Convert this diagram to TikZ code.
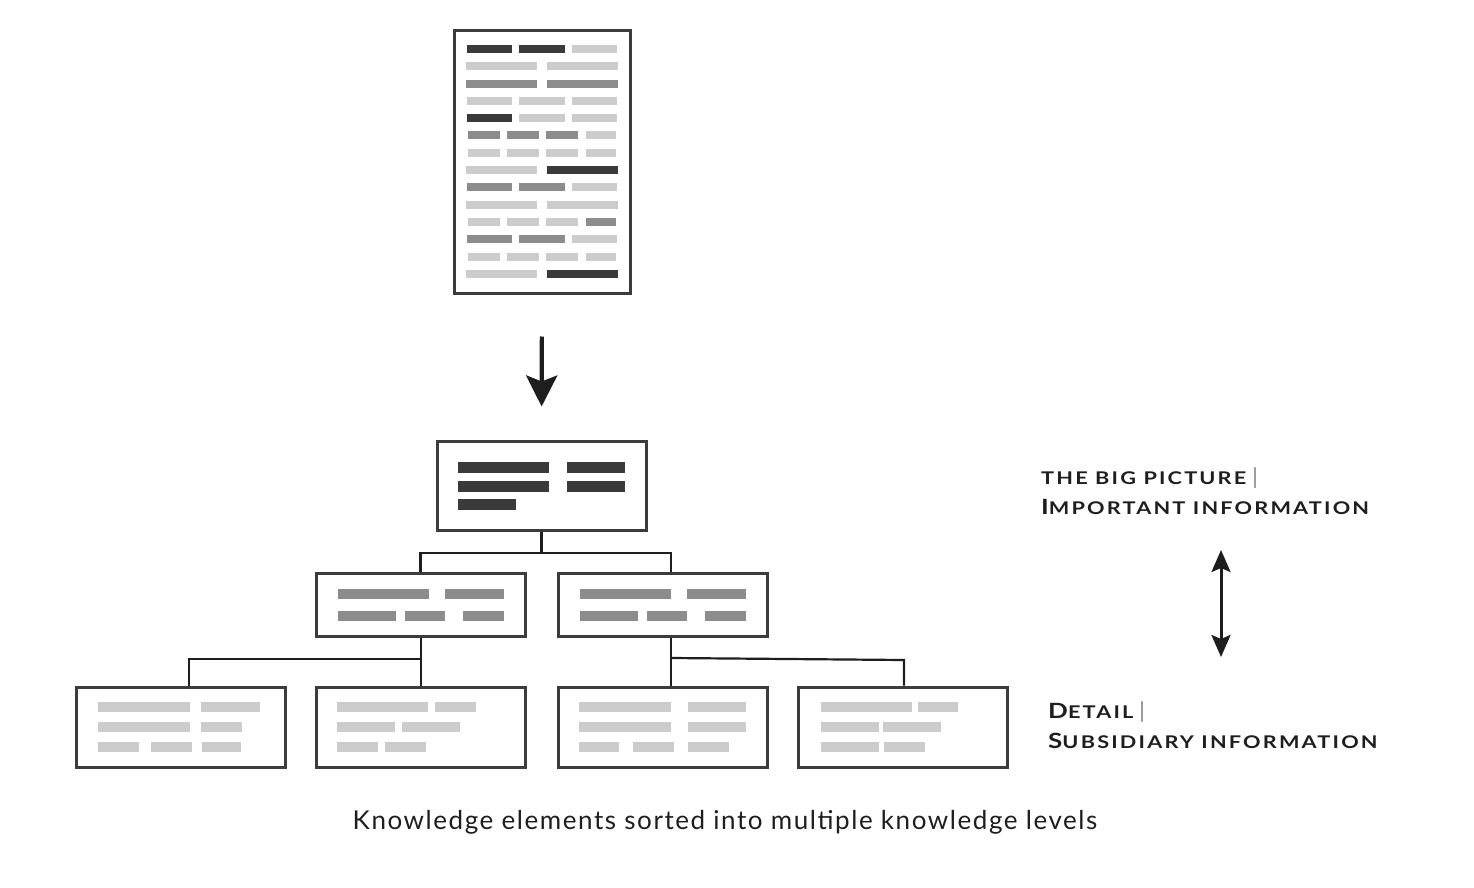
\documentclass[tikz,border=0pt]{standalone}
\usepackage{fontspec}
\setmainfont{Lato}
\newfontfamily\labfont{Lato Bold}[LetterSpace=10]
\newfontfamily\barfont{Lato}
\newfontfamily\capfont{Lato}[LetterSpace=6]
\usetikzlibrary{arrows.meta}
\definecolor{dk}{HTML}{3A3A3A}
\definecolor{md}{HTML}{8C8C8C}
\definecolor{lt}{HTML}{CCCCCC}
\definecolor{edge}{HTML}{3C3C3C}
\definecolor{ink}{HTML}{1E1E1E}
\newcommand\hb[5]{\fill[#5] (#1,#3-#4) rectangle (#2,#3+#4);}
\newcommand\rowtwo[3]{\hb{466}{537}{#1}{4}{#2}\hb{547}{618}{#1}{4}{#3}}
\newcommand\rowthree[4]{\hb{467}{512}{#1}{4}{#2}\hb{519}{565}{#1}{4}{#3}\hb{572}{617}{#1}{4}{#4}}
\newcommand\rowfour[5]{\hb{468}{500}{#1}{4}{#2}\hb{507}{539}{#1}{4}{#3}\hb{546}{578}{#1}{4}{#4}\hb{586}{616}{#1}{4}{#5}}
\newcommand\bigsc[1]{{\fontsize{21}{21}\selectfont #1}}
\newcommand\smsc[1]{{\fontsize{17.5}{17.5}\selectfont #1}}
\newcommand\vbar{{\barfont\fontsize{22}{22}\selectfont\color{gray}|}}
\newcommand\wide[1]{\scalebox{1.24}[1]{#1}}
\begin{document}
\begin{tikzpicture}[x=1pt,y=-1pt,
  box/.style={draw=edge,line width=3pt,fill=white,inner sep=0pt,minimum width=209pt},
  link/.style={draw=ink,line width=2.2pt},
  lab/.style={inner sep=0pt,anchor=base west,text=ink,font=\labfont}]
\useasboundingbox (0,0) rectangle (1474,888);
% document
\node[box,minimum width=176pt,minimum height=262pt] (doc) at (542,162) {};
\rowthree{49}{dk}{dk}{lt}
\rowtwo{66}{lt}{lt}
\rowtwo{84}{md}{md}
\rowthree{101}{lt}{lt}{lt}
\rowthree{118}{dk}{lt}{lt}
\rowfour{135}{md}{md}{md}{lt}
\rowfour{153}{lt}{lt}{lt}{lt}
\rowtwo{170}{lt}{dk}
\rowthree{187}{md}{md}{lt}
\rowtwo{205}{lt}{lt}
\rowfour{222}{lt}{lt}{lt}{md}
\rowthree{239}{md}{md}{lt}
\rowfour{257}{lt}{lt}{lt}{lt}
\rowtwo{274}{lt}{dk}
% top box
\node[box,minimum height=89pt] (top) at (541.5,485.5) {};
\hb{458}{549}{467.5}{5.5}{dk}\hb{567}{625}{467.5}{5.5}{dk}
\hb{458}{549}{486}{5.5}{dk}\hb{567}{625}{486}{5.5}{dk}
\hb{458}{516}{504}{5.5}{dk}
% main arrow
\draw[draw=ink,line width=4.2pt,shorten <=42pt,shorten >=33pt,-{Stealth[length=31pt,width=31pt,inset=6pt]}] (doc.south) -- (top.north);
% middle boxes
\node[box,minimum height=63pt] (m1) at (420.5,604.5) {};
\node[box,minimum height=63pt] (m2) at (662.5,604.5) {};
\foreach \d in {0,242}{
  \hb{338+\d}{429+\d}{594}{5.3}{md}\hb{445+\d}{504+\d}{594}{5.3}{md}
  \hb{338+\d}{396+\d}{616}{5.3}{md}\hb{405+\d}{445+\d}{616}{5.3}{md}\hb{463+\d}{504+\d}{616}{5.3}{md}
}
% bottom boxes
\node[box,minimum height=80pt] (b1) at (180.5,727) {};
\node[box,minimum height=80pt] (b2) at (421,727) {};
\node[box,minimum height=80pt] (b3) at (662.5,727) {};
\node[box,minimum height=80pt] (b4) at (903,727) {};
\hb{98}{190}{707}{5.2}{lt}\hb{201}{260}{707}{5.2}{lt}
\hb{98}{190}{727}{5.2}{lt}\hb{201}{242}{727}{5.2}{lt}
\hb{98}{139}{747}{5.2}{lt}\hb{151}{192}{747}{5.2}{lt}\hb{202}{241}{747}{5.2}{lt}
\hb{337}{428}{707}{5.2}{lt}\hb{435}{476}{707}{5.2}{lt}
\hb{337}{395}{727}{5.2}{lt}\hb{402}{460}{727}{5.2}{lt}
\hb{337}{378}{747}{5.2}{lt}\hb{385}{426}{747}{5.2}{lt}
\hb{579}{671}{707}{5.2}{lt}\hb{688}{746}{707}{5.2}{lt}
\hb{579}{671}{727}{5.2}{lt}\hb{688}{746}{727}{5.2}{lt}
\hb{579}{619}{747}{5.2}{lt}\hb{633}{674}{747}{5.2}{lt}\hb{688}{729}{747}{5.2}{lt}
\hb{821}{912}{707}{5.2}{lt}\hb{918}{958}{707}{5.2}{lt}
\hb{821}{879}{727}{5.2}{lt}\hb{883}{941}{727}{5.2}{lt}
\hb{821}{879}{747}{5.2}{lt}\hb{884}{925}{747}{5.2}{lt}
% connectors
\coordinate (j0) at (541.5,553);
\coordinate (j1) at (421,659);
\coordinate (j2) at (671,658);
\draw[link] (top.south) -- (j0) -| (m1.north);
\draw[link] (j0) -| (m2.north -| j2);
\draw[link] (m1.south -| j1) -- (j1) -| (b1.north -| 189,0);
\draw[link] (j1) -- (b2.north -| j1);
\draw[link] (m2.south -| j2) -- (j2) -- (b3.north -| j2);
\draw[link] (j2) -- (904,660) -- (b4.north -| 904,0);
% double arrow
\coordinate (da1) at (1221,550);
\coordinate (da2) at (1221,657);
\draw[draw=ink,line width=3pt,{Stealth[length=22pt,width=19pt,inset=4pt]}-{Stealth[length=22pt,width=19pt,inset=4pt]}] (da1) -- (da2);
% labels
\node[lab] (l1) at (1041,484) {\wide{\smsc{THE BIG PICTURE}}\hspace{6pt}\vbar};
\node[lab] (l2) at (1041,514) {\wide{\bigsc{I}\smsc{MPORTANT INFORMATION}}};
\node[lab] (l3) at (1048,718) {\wide{\bigsc{D}\smsc{ETAIL}}\hspace{6pt}\vbar};
\node[lab] (l4) at (1048,748) {\wide{\bigsc{S}\smsc{UBSIDIARY INFORMATION}}};
\node[inner sep=0pt,anchor=base,text=ink,font=\capfont\fontsize{26}{26}\selectfont] (cap) at (725,829) {Knowledge elements sorted into multiple knowledge levels};
\end{tikzpicture}
\end{document}
